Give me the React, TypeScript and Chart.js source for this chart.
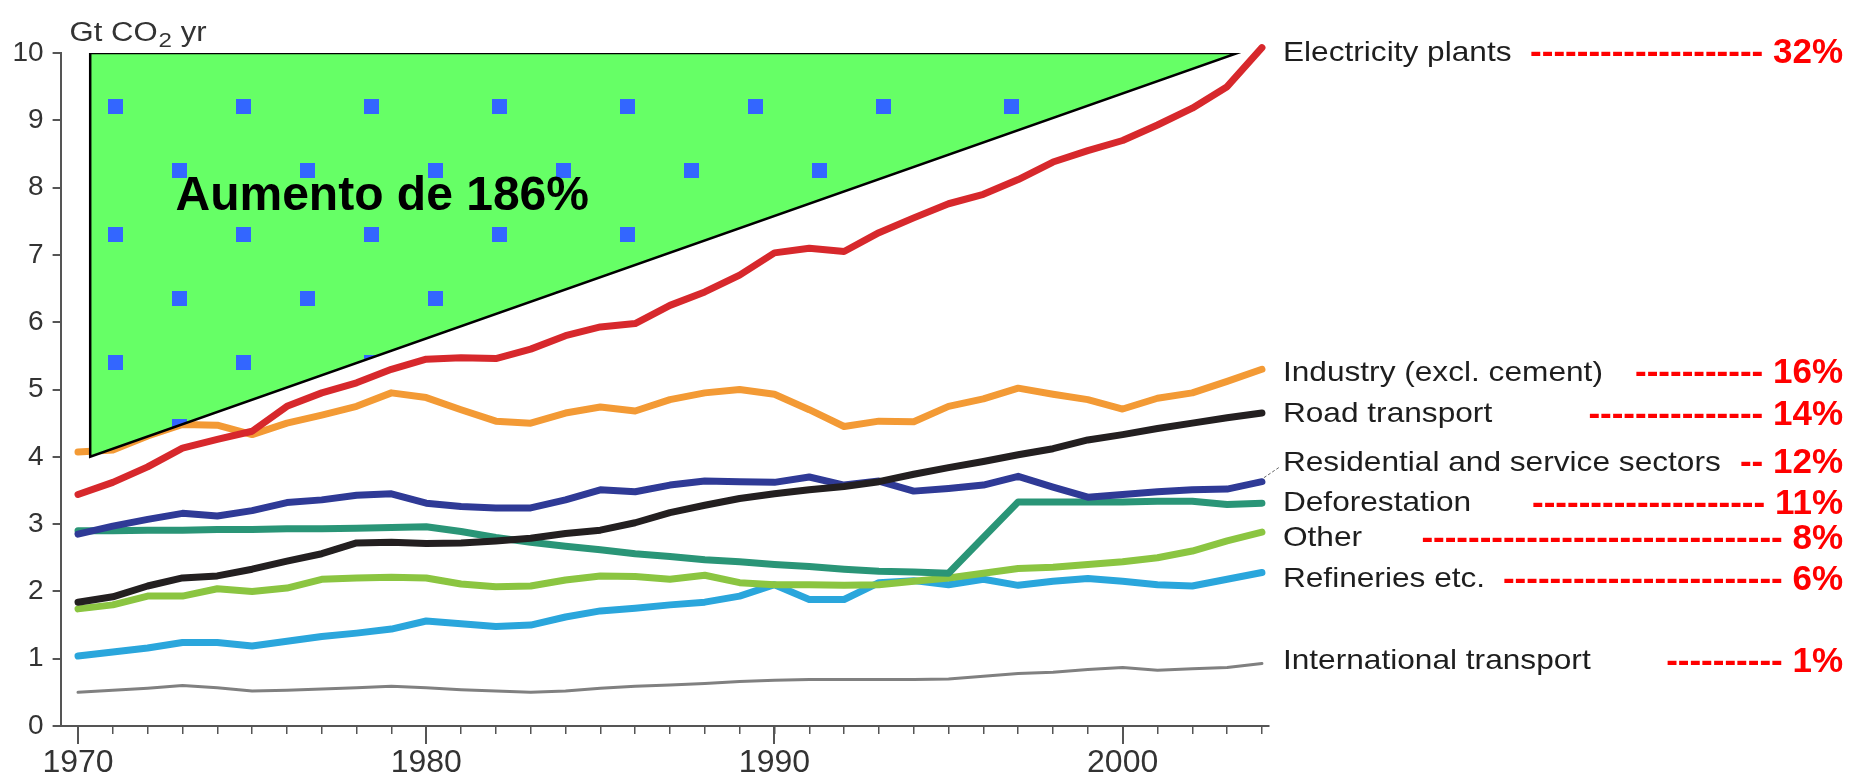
import React, { useEffect, useRef } from 'react';
import { Chart, registerables } from 'chart.js';

Chart.register(...registerables);

const FONT = '"Liberation Sans", Arial, Helvetica, sans-serif';

const years = [
  1970, 1971, 1972, 1973, 1974, 1975, 1976, 1977, 1978, 1979,
  1980, 1981, 1982, 1983, 1984, 1985, 1986, 1987, 1988, 1989,
  1990, 1991, 1992, 1993, 1994, 1995, 1996, 1997, 1998, 1999,
  2000, 2001, 2002, 2003, 2004,
];

const electricity = [
  3.44, 3.62, 3.85, 4.13, 4.26, 4.38, 4.75, 4.95, 5.10, 5.30,
  5.45, 5.47, 5.46, 5.60, 5.80, 5.93, 5.98, 6.25, 6.45, 6.70,
  7.03, 7.10, 7.05, 7.33, 7.55, 7.76, 7.90, 8.12, 8.38, 8.55,
  8.70, 8.93, 9.18, 9.50, 10.08,
];
const industry = [
  4.07, 4.10, 4.31, 4.48, 4.47, 4.33, 4.50, 4.62, 4.75, 4.95,
  4.88, 4.70, 4.53, 4.50, 4.65, 4.74, 4.68, 4.85, 4.95, 5.00,
  4.93, 4.70, 4.45, 4.53, 4.52, 4.75, 4.86, 5.02, 4.93, 4.85,
  4.71, 4.87, 4.95, 5.12, 5.30,
];
const roadTransport = [
  1.84, 1.92, 2.08, 2.20, 2.23, 2.33, 2.45, 2.56, 2.72, 2.73,
  2.71, 2.72, 2.75, 2.79, 2.86, 2.91, 3.02, 3.17, 3.28, 3.38,
  3.45, 3.51, 3.56, 3.63, 3.74, 3.84, 3.93, 4.03, 4.12, 4.25,
  4.33, 4.42, 4.50, 4.58, 4.65,
];
const residential = [
  2.85, 2.97, 3.07, 3.16, 3.12, 3.20, 3.32, 3.36, 3.43, 3.45,
  3.31, 3.26, 3.24, 3.24, 3.36, 3.51, 3.48, 3.58, 3.64, 3.63,
  3.62, 3.70, 3.58, 3.64, 3.49, 3.53, 3.58, 3.71, 3.55, 3.40,
  3.44, 3.48, 3.51, 3.52, 3.63,
];
const deforestation = [
  2.90, 2.90, 2.91, 2.91, 2.92, 2.92, 2.93, 2.93, 2.94, 2.95,
  2.96, 2.89, 2.80, 2.73, 2.67, 2.62, 2.56, 2.52, 2.47, 2.44,
  2.40, 2.37, 2.33, 2.30, 2.29, 2.27, 2.80, 3.33, 3.33, 3.33,
  3.33, 3.34, 3.34, 3.29, 3.31,
];
const other = [
  1.74, 1.80, 1.93, 1.93, 2.04, 2.00, 2.05, 2.18, 2.20, 2.21,
  2.20, 2.11, 2.07, 2.08, 2.17, 2.23, 2.22, 2.18, 2.24, 2.13,
  2.10, 2.10, 2.09, 2.10, 2.15, 2.20, 2.27, 2.34, 2.36, 2.40,
  2.44, 2.50, 2.60, 2.75, 2.88,
];
const refineries = [
  1.04, 1.10, 1.16, 1.24, 1.24, 1.19, 1.26, 1.33, 1.38, 1.44,
  1.56, 1.52, 1.48, 1.50, 1.62, 1.71, 1.75, 1.80, 1.84, 1.93,
  2.10, 1.88, 1.88, 2.13, 2.16, 2.10, 2.18, 2.09, 2.15, 2.19,
  2.15, 2.10, 2.08, 2.18, 2.28,
];
const internationalTransport = [
  0.50, 0.53, 0.56, 0.60, 0.57, 0.52, 0.53, 0.55, 0.57, 0.59,
  0.57, 0.54, 0.52, 0.50, 0.52, 0.56, 0.59, 0.61, 0.63, 0.66,
  0.68, 0.69, 0.69, 0.69, 0.69, 0.70, 0.74, 0.78, 0.80, 0.84,
  0.87, 0.83, 0.85, 0.87, 0.93,
];

const seriesValues = [
  electricity, industry, roadTransport, residential,
  deforestation, other, refineries, internationalTransport,
];
const seriesLabels = [
  'Electricity plants',
  'Industry (excl. cement)',
  'Road transport',
  'Residential and service sectors',
  'Deforestation',
  'Other',
  'Refineries etc.',
  'International transport',
];
const sharePct = ['32%', '16%', '14%', '12%', '11%', '8%', '6%', '1%'];
const shareDashes = [
  '--------------------',
  '-----------',
  '---------------',
  '--',
  '--------------------',
  '-------------------------------',
  '------------------------',
  '----------',
];
const labelAnchorValues = [10.03, 5.28, 4.66, 3.94, 3.34, 2.82, 2.21, 0.99];
const seriesColors = [
  '#d7282c', '#f39a35', '#231f20', '#2f3a96',
  '#2a9577', '#8bc541', '#2aa6dc', '#808080',
];
const seriesWidths = [7, 7, 7, 7, 7, 7, 7, 3];

const triangleX = [1970.35, 2003.3, 1970.35, 1970.35];
const triangleY = [10, 10, 4.0, 10];
const increaseText = 'Aumento de 186%';
const increaseAnchor = { x: 1972.8, y: 7.67 };

const xMajorTicks = [1970, 1980, 1990, 2000];
const unitMain = 'Gt CO';
const unitSub = '2';
const unitTail = ' yr';

function stretchedText(ctx: CanvasRenderingContext2D, text: string, x: number, y: number, sx: number) {
  ctx.save();
  ctx.translate(x, y);
  ctx.scale(sx, 1);
  ctx.fillText(text, 0, 0);
  ctx.restore();
}

const annotatePlugin = {
  id: 'annotate',
  afterDatasetsDraw(chart: any) {
    const { ctx, chartArea } = chart;
    const xs = chart.scales.x;
    const ys = chart.scales.y;
    ctx.save();

    // long major ticks on x axis
    ctx.strokeStyle = '#555';
    ctx.lineWidth = 2;
    xMajorTicks.forEach((v) => {
      const px = Math.round(xs.getPixelForValue(v));
      ctx.beginPath();
      ctx.moveTo(px, chartArea.bottom);
      ctx.lineTo(px, chartArea.bottom + 18);
      ctx.stroke();
    });

    // unit label
    ctx.fillStyle = '#333';
    ctx.textAlign = 'left';
    ctx.textBaseline = 'alphabetic';
    const ux = chartArea.left + 9;
    const uy = chartArea.top - 12;
    const sx = 1.15;
    ctx.font = `27px ${FONT}`;
    stretchedText(ctx, unitMain, ux, uy, sx);
    const w1 = ctx.measureText(unitMain).width * sx;
    ctx.font = `21px ${FONT}`;
    stretchedText(ctx, unitSub, ux + w1 + 1, uy + 6, sx);
    const w2 = ctx.measureText(unitSub).width * sx;
    ctx.font = `27px ${FONT}`;
    stretchedText(ctx, unitTail, ux + w1 + 1 + w2, uy, sx);

    // increase text
    ctx.fillStyle = '#000';
    ctx.font = `bold 48px ${FONT}`;
    ctx.fillText(increaseText, xs.getPixelForValue(increaseAnchor.x), ys.getPixelForValue(increaseAnchor.y));

    // right-hand labels
    const lx = chartArea.right + 14;
    const rx = 1843;
    seriesLabels.forEach((lab, i) => {
      const cy = ys.getPixelForValue(labelAnchorValues[i]);
      ctx.fillStyle = '#1e1e1e';
      ctx.textAlign = 'left';
      ctx.font = `28px ${FONT}`;
      stretchedText(ctx, lab, lx, cy + 10, 1.13);
      ctx.fillStyle = '#ff0000';
      ctx.textAlign = 'right';
      ctx.font = `bold 35px ${FONT}`;
      ctx.fillText(`${shareDashes[i]} ${sharePct[i]}`, rx, cy + 12.5);
    });

    // small dashed leader for residential
    const ex = xs.getPixelForValue(years[years.length - 1]);
    const ey = ys.getPixelForValue(residential[residential.length - 1]);
    ctx.strokeStyle = '#666';
    ctx.lineWidth = 1;
    ctx.setLineDash([3, 2]);
    ctx.beginPath();
    ctx.moveTo(ex + 2, ey - 4);
    ctx.lineTo(lx - 3, ys.getPixelForValue(labelAnchorValues[3]) + 6);
    ctx.stroke();
    ctx.setLineDash([]);

    ctx.restore();
  },
};

export default function App() {
  const canvasRef = useRef<HTMLCanvasElement>(null);

  useEffect(() => {
    const canvas = canvasRef.current;
    if (!canvas) return;
    const c2d = canvas.getContext('2d')!;
    const tile = document.createElement('canvas');
    tile.width = 128;
    tile.height = 128;
    const t = tile.getContext('2d')!;
    t.fillStyle = '#66ff66';
    t.fillRect(0, 0, 128, 128);
    t.fillStyle = '#3366ff';
    t.fillRect(44, 35, 15, 15);
    t.fillRect(108, 99, 15, 15);
    const pattern = c2d.createPattern(tile, 'repeat');

    Chart.defaults.font.family = FONT;

    const datasets: any[] = [
      {
        label: 'triangle',
        data: triangleX.map((x, i) => ({ x, y: triangleY[i] })),
        borderColor: '#000',
        borderWidth: 2.5,
        backgroundColor: pattern,
        fill: 'shape',
        pointRadius: 0,
        tension: 0,
      },
      ...seriesValues.map((vals, i) => ({
        label: seriesLabels[i],
        data: years.map((yr, j) => ({ x: yr, y: vals[j] })),
        borderColor: seriesColors[i],
        borderWidth: seriesWidths[i],
        pointRadius: 0,
        fill: false,
        tension: 0,
        borderJoinStyle: 'round',
        borderCapStyle: 'round',
        clip: false,
      })),
    ];

    const chart = new Chart(canvas, {
      type: 'line',
      data: { datasets },
      options: {
        responsive: false,
        animation: false,
        devicePixelRatio: 1,
        layout: { padding: { left: 0, top: 53, right: 589.1, bottom: 0 } },
        plugins: { legend: { display: false }, tooltip: { enabled: false } },
        scales: {
          x: {
            type: 'linear',
            min: 1969.5,
            max: 2004.2,
            afterFit: (s: any) => { s.height = 52; },
            border: { display: true, color: '#555', width: 2 },
            grid: { drawOnChartArea: false, drawTicks: true, tickLength: 8, color: '#555', lineWidth: 1.5 },
            ticks: {
              stepSize: 1,
              autoSkip: false,
              includeBounds: false,
              maxRotation: 0,
              minRotation: 0,
              padding: 10,
              color: '#333',
              font: { family: FONT, size: 32 },
              callback: (v: any) => (xMajorTicks.includes(Number(v)) ? String(v) : ''),
            },
          },
          y: {
            type: 'linear',
            min: 0,
            max: 10,
            afterFit: (s: any) => { s.width = 60.6; },
            border: { display: true, color: '#555', width: 2 },
            grid: { drawOnChartArea: false, drawTicks: true, tickLength: 8, color: '#555', lineWidth: 2 },
            ticks: {
              stepSize: 1,
              padding: 9,
              color: '#333',
              font: { family: FONT, size: 28 },
            },
          },
        },
      },
      plugins: [annotatePlugin],
    } as any);

    return () => chart.destroy();
  }, []);

  return (
    <div style={{ position: 'fixed', left: 0, top: 0, width: 1858, height: 778, background: '#fff' }}>
      <canvas ref={canvasRef} width={1858} height={778} style={{ display: 'block' }} />
    </div>
  );
}
